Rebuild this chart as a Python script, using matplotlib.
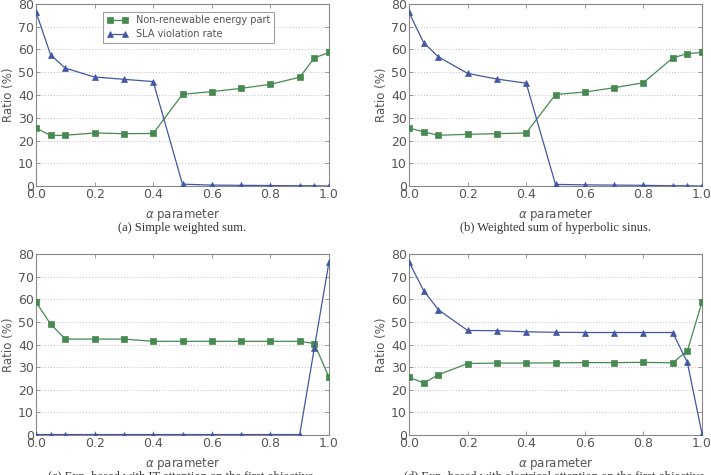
import matplotlib
matplotlib.use("Agg")
import matplotlib.pyplot as plt

alpha = [0.0, 0.05, 0.1, 0.2, 0.3, 0.4, 0.5, 0.6, 0.7, 0.8, 0.9, 0.95, 1.0]

energy_a = [25.5, 22.2, 22.3, 23.3, 23.0, 23.1, 40.3, 41.5, 42.9, 44.7, 47.8, 56.3, 58.7]
sla_a = [76.5, 57.6, 51.8, 47.9, 46.9, 45.9, 0.8, 0.4, 0.3, 0.2, 0.1, 0.1, 0.0]

energy_b = [25.5, 23.8, 22.3, 22.7, 23.0, 23.3, 40.2, 41.3, 43.2, 45.4, 56.3, 58.2, 58.7]
sla_b = [76.3, 63.0, 56.8, 49.5, 47.0, 45.2, 0.7, 0.5, 0.4, 0.3, 0.1, 0.1, 0.0]

energy_c = [58.8, 49.0, 42.4, 42.4, 42.4, 41.4, 41.4, 41.4, 41.4, 41.4, 41.4, 40.4, 25.5]
sla_c = [0.2, 0.2, 0.2, 0.2, 0.2, 0.2, 0.2, 0.2, 0.2, 0.2, 0.2, 38.5, 76.5]

energy_d = [25.5, 23.0, 26.6, 31.6, 31.8, 31.8, 31.9, 32.0, 32.0, 32.1, 31.9, 37.2, 58.8]
sla_d = [76.5, 63.8, 55.4, 46.2, 46.1, 45.6, 45.4, 45.3, 45.3, 45.3, 45.3, 32.1, 0.5]

captions = [
    "(a) Simple weighted sum.",
    "(b) Weighted sum of hyperbolic sinus.",
    "(c) Exp. based with IT attention on the first objective.",
    "(d) Exp. based with electrical attention on the first objective.",
]

series_energy = [energy_a, energy_b, energy_c, energy_d]
series_sla = [sla_a, sla_b, sla_c, sla_d]

GREEN = "#478a4f"
BLUE = "#4257a3"
GRAY = "#555555"
SPINE = "#888888"

fig = plt.figure(figsize=(7.11, 4.75), dpi=100)

W, H = 711.0, 475.0
# pixel boxes (left, right, top, bottom)
boxes = [
    (36, 329, 4, 186),
    (409, 702, 4, 186),
    (36, 329, 254, 435),
    (409, 702, 254, 435),
]
cap_tops = [222, 222, 471, 471]

for i, (l, r, t, b) in enumerate(boxes):
    ax = fig.add_axes([l / W, 1 - b / H, (r - l) / W, (b - t) / H])
    ax.plot(alpha, series_energy[i], color=GREEN, marker="s", markersize=5,
            linewidth=0.9, markeredgewidth=0.5, markeredgecolor=GREEN,
            label="Non-renewable energy part", zorder=3)
    ax.plot(alpha, series_sla[i], color=BLUE, marker="^", markersize=5,
            linewidth=0.9, markeredgewidth=0.5, markeredgecolor=BLUE,
            label="SLA violation rate", zorder=3)
    ax.set_xlim(0, 1.0)
    ax.set_ylim(0, 80)
    ax.set_xticks([0.0, 0.2, 0.4, 0.6, 0.8, 1.0])
    ax.set_yticks(range(0, 81, 10))
    ax.yaxis.grid(True, linestyle=(0, (1, 2.5)), color="#aaaaaa", linewidth=0.6)
    ax.set_axisbelow(True)
    for s in ax.spines.values():
        s.set_color(SPINE)
        s.set_linewidth(0.8)
    ax.tick_params(direction="in", top=True, right=True, length=3, width=0.6,
                   colors=SPINE, labelcolor=GRAY, labelsize=9, pad=1.5)
    ax.set_ylabel("Ratio (%)", color=GRAY, fontsize=8.5, labelpad=2)
    ax.set_xlabel(r"$\alpha$ parameter", color=GRAY, fontsize=8.5, labelpad=4)
    cx = (l + r) / 2 / W
    fig.text(cx, 1 - cap_tops[i] / H, captions[i], ha="center", va="top",
             fontsize=9, family="Liberation Serif", color="#333333")
    if i == 0:
        leg = ax.legend(loc="upper center", fontsize=7, numpoints=2,
                        fancybox=False, frameon=True, borderpad=0.4,
                        handlelength=2.2, labelspacing=0.4,
                        bbox_to_anchor=(0.52, 0.985))
        leg.get_frame().set_edgecolor(SPINE)
        leg.get_frame().set_linewidth(0.8)
        for txt in leg.get_texts():
            txt.set_color(GRAY)

fig.savefig("out.png", dpi=100)
